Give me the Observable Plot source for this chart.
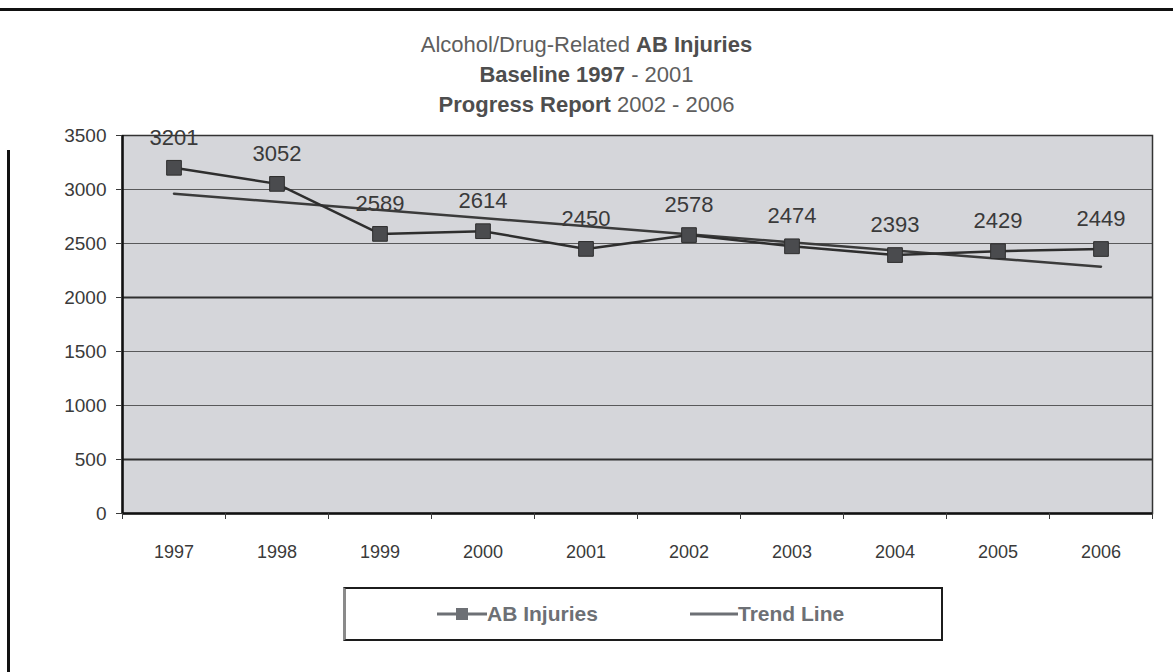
<!DOCTYPE html>
<html>
<head>
<meta charset="utf-8">
<script src="https://cdn.jsdelivr.net/npm/d3@7"></script>
<script src="https://cdn.jsdelivr.net/npm/@observablehq/plot@0.6"></script>
<style>
  body { margin: 0; background: #fff; font-family: "Liberation Sans", Arial, sans-serif; }
  #page { position: relative; width: 1173px; height: 672px; overflow: hidden; background: #fff; }
  .topline { position: absolute; left: 0; top: 8px; width: 1173px; height: 3px; background: #111; }
  .leftline { position: absolute; left: 7px; top: 150px; width: 3px; height: 522px; background: #111; }
  #title { position: absolute; left: 0; top: 30px; width: 1173px; text-align: center;
           font-size: 22px; line-height: 30px; color: #5e5e5e; }
  #title b { color: #4e4e4e; }
  #chart { position: absolute; left: 0; top: 120px; }
  #legend { position: absolute; left: 343px; top: 587px; width: 600px; height: 54px; box-sizing: border-box;
            border: 2px solid #1c1c1c; border-left: 3px solid #8a8a8a; background: #fff;
            font-weight: bold; font-size: 21px; color: #6d7075; }
  .item { position: absolute; top: 0; height: 50px; display: flex; align-items: center; }
  .item svg { display: block; }
</style>
</head>
<body>
<div id="page">
  <div class="topline"></div>
  <div class="leftline"></div>
  <div id="title">
    <div>Alcohol/Drug-Related <b>AB Injuries</b></div>
    <div><b>Baseline 1997</b> - 2001</div>
    <div><b>Progress Report</b> 2002 - 2006</div>
  </div>
  <div id="chart"></div>
  <div id="legend">
    <div class="item" style="left:91px;">
      <svg width="50" height="20"><line x1="0" y1="10" x2="50" y2="10" stroke="#6d7075" stroke-width="3"/><rect x="19" y="4" width="12" height="12" fill="#6d7075"/></svg>
      <span>AB Injuries</span>
    </div>
    <div class="item" style="left:344px;">
      <svg width="48" height="20"><line x1="0" y1="10" x2="48" y2="10" stroke="#6d7075" stroke-width="3"/></svg>
      <span>Trend Line</span>
    </div>
  </div>
</div>
<script>
const years = [1997, 1998, 1999, 2000, 2001, 2002, 2003, 2004, 2005, 2006];
const injuries = [3201, 3052, 2589, 2614, 2450, 2578, 2474, 2393, 2429, 2449];
const yTicks = [0, 500, 1000, 1500, 2000, 2500, 3000, 3500];

const data = years.map((year, i) => ({year, value: injuries[i]}));
const boundaries = [years[0] - 0.5, ...years.map(y => y + 0.5)];
const innerLines = yTicks.filter(v => v > 0 && v < d3.max(yTicks));

const chart = Plot.plot({
  width: 1173,
  height: 450,
  marginLeft: 122,
  marginRight: 21,
  marginTop: 15,
  marginBottom: 57,
  style: {fontFamily: "Liberation Sans, Arial, sans-serif", fontSize: "18px", color: "#3a3a3a", background: "transparent"},
  x: {type: "linear", domain: [boundaries[0], boundaries[boundaries.length - 1]], label: null},
  y: {domain: [0, d3.max(yTicks)], label: null},
  marks: [
    Plot.frame({fill: "#d5d6da", stroke: null}),
    Plot.ruleY(innerLines, {stroke: "#2f2f2f", strokeWidth: d => (d === 2000 || d === 500) ? 2.2 : 1, strokeOpacity: d => (d === 2000 || d === 500) ? 1 : 0.75}),
    Plot.frame({stroke: "#333", strokeWidth: 1.5}),
    Plot.ruleY([0], {stroke: "#111", strokeWidth: 2.5}),
    Plot.ruleX([boundaries[0]], {stroke: "#111", strokeWidth: 2.5}),
    Plot.axisY(yTicks, {tickSize: 6, tickPadding: 10, tickFormat: "d", fontSize: 19}),
    Plot.axisX(years, {tickSize: 0, tickPadding: 32, tickFormat: "d", fontSize: 18}),
    Plot.axisX(boundaries, {tickSize: 6, tickFormat: () => ""}),
    Plot.linearRegressionY(data, {x: "year", y: "value", stroke: "#3b3b3b", strokeWidth: 2.5, ci: 0}),
    Plot.line(data, {x: "year", y: "value", stroke: "#2e2e2e", strokeWidth: 2.5}),
    Plot.dot(data, {x: "year", y: "value", symbol: "square", r: 8.3, fill: "#4a4b4e", stroke: "#2e2e2e", strokeWidth: 1}),
    Plot.text(data, {x: "year", y: "value", text: d => String(d.value), dy: -30, fontSize: 22, fill: "#3a3a3a"})
  ]
});
document.getElementById("chart").appendChild(chart);
</script>
</body>
</html>
